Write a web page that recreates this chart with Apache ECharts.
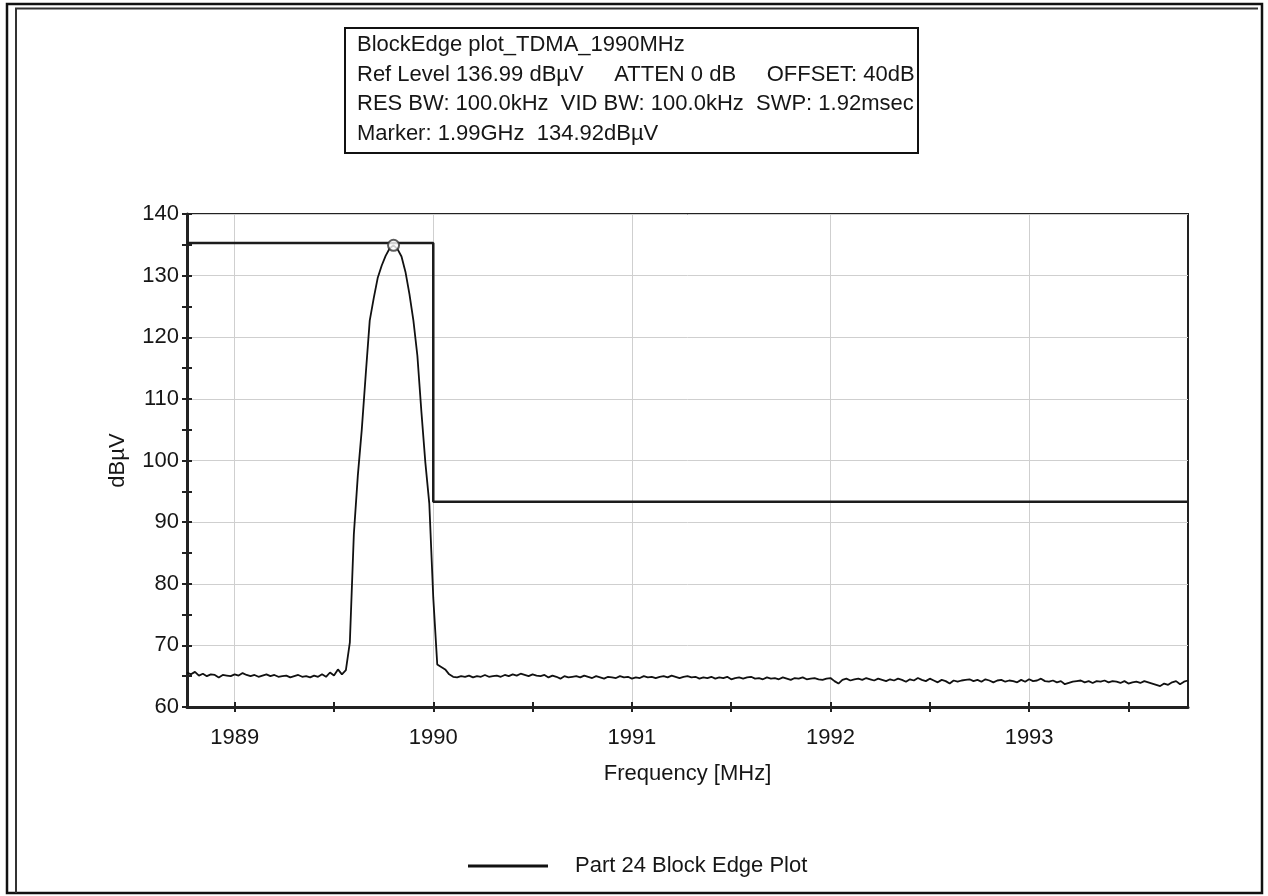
<!DOCTYPE html>
<html>
<head>
<meta charset="utf-8">
<title>Part 24 Block Edge Plot</title>
<script src="https://cdn.jsdelivr.net/npm/echarts@6/dist/echarts.min.js"></script>
<style>
  html, body { margin: 0; padding: 0; background: #ffffff; }
  #chart { width: 1268px; height: 896px; }
</style>
</head>
<body>
<div id="chart"></div>
<script>
// ---- Sweep settings and readout text ----
const infoLines = [
  'BlockEdge plot_TDMA_1990MHz',
  'Ref Level 136.99 dBµV     ATTEN 0 dB     OFFSET: 40dB',
  'RES BW: 100.0kHz  VID BW: 100.0kHz  SWP: 1.92msec',
  'Marker: 1.99GHz  134.92dBµV'
];

// ---- Axis ranges and tick labels ----
const freqMinMHz = 1988.76;
const freqMaxMHz = 1993.80;
const freqLabelValues = [1989, 1990, 1991, 1992, 1993];
const freqTickValues = [1989, 1989.5, 1990, 1990.5, 1991, 1991.5, 1992, 1992.5, 1993, 1993.5];
const levelMin = 60;
const levelMax = 140;
const levelStep = 10;

// ---- Measured trace (dBµV), one reading every traceStepMHz from traceStartMHz ----
const traceStartMHz = 1988.76;
const traceStepMHz = 0.02;
const traceLevel = [
  // 1988.76 .. 1989.54
  65.6, 65.3, 65.7, 65.1, 65.4, 65.0, 65.3, 65.2, 64.8, 65.2,
  65.1, 65.0, 65.3, 65.1, 65.5, 65.2, 65.0, 65.2, 64.9, 65.1,
  65.3, 65.0, 65.2, 64.9, 65.0, 65.1, 64.8, 65.0, 65.2, 64.9,
  65.0, 64.8, 65.1, 64.9, 65.3, 64.9, 65.6, 65.1, 66.1, 65.3,
  // 1989.56 .. 1990.10 (carrier)
  66.0, 70.5, 88.0, 97.5, 105.0, 114.0, 122.7, 126.3, 129.6, 131.6,
  133.2, 134.4, 134.92, 134.3, 133.1, 130.6, 127.0, 122.7, 117.0, 108.0,
  99.7, 93.0, 77.7, 66.9, 66.5, 66.1, 65.3, 64.9,
  // 1990.12 .. 1993.80
  64.8, 65.0, 64.9, 65.1, 64.8, 65.0, 64.9, 65.2, 64.9, 65.0,
  65.1, 64.9, 65.2, 65.0, 65.3, 65.1, 65.4, 65.2, 65.0, 65.3,
  65.1, 65.0, 65.2, 64.8, 65.1, 64.9, 64.6, 65.0, 64.8, 64.9,
  65.0, 64.8, 65.1, 64.9, 64.7, 65.0, 64.8, 64.6, 64.9, 64.8,
  64.7, 65.0, 64.8, 64.9, 64.6, 64.8, 64.7, 65.0, 64.8, 64.9,
  64.7, 64.9, 65.0, 64.8, 65.1, 64.9, 64.7, 64.9, 65.0, 64.8,
  64.9, 64.6, 64.8, 64.7, 64.9, 64.6, 64.8, 64.7, 64.9, 64.5,
  64.7, 64.8, 64.6, 64.8, 64.9, 64.6, 64.7, 64.5, 64.8, 64.6,
  64.7, 64.5, 64.8, 64.6, 64.4, 64.7, 64.6, 64.8, 64.5, 64.6,
  64.7, 64.5, 64.4, 64.6, 64.7, 64.2, 63.8, 64.4, 64.6, 64.3,
  64.5, 64.6, 64.4, 64.7, 64.5, 64.3, 64.6, 64.4, 64.2, 64.5,
  64.3, 64.6, 64.4, 64.1, 64.5, 64.3, 64.7, 64.4, 64.2, 64.6,
  64.3, 64.0, 64.4, 64.2, 63.8, 64.3, 64.1, 64.3, 64.4, 64.5,
  64.2, 64.4, 64.1, 64.5, 64.3, 64.0, 64.3, 64.4, 64.1, 64.3,
  64.2, 64.0, 64.4, 64.1, 64.5, 64.2, 64.3, 64.6, 64.2, 64.1,
  64.3, 64.0, 64.2, 63.7, 63.9, 64.1, 64.2, 64.3, 64.0, 64.2,
  63.9, 64.2, 64.1, 64.3, 64.0, 64.2, 64.1, 63.9, 64.2, 63.8,
  64.0, 64.1, 63.9, 64.2, 64.0, 63.8, 63.6, 63.4, 63.8, 63.6,
  64.0, 64.2, 63.7, 64.1, 64.3
];

// ---- Block edge limit mask ----
const limitFreqMHz = [1988.76, 1990.0, 1990.0, 1993.80];
const limitLevel = [135.3, 135.3, 93.3, 93.3];

// ---- Peak marker ----
const markerFreqMHz = 1989.80;
const markerLevel = 134.92;

const traceName = 'Part 24 Block Edge Plot';

const FONT = '"Liberation Sans", Arial, sans-serif';
const INK = '#161616';
const GRID_GREY = '#cfcfcf';

const traceData = traceLevel.map((v, i) => [+(traceStartMHz + i * traceStepMHz).toFixed(2), v]);
const limitData = limitFreqMHz.map((f, i) => [f, limitLevel[i]]);

const chart = echarts.init(document.getElementById('chart'), null, { renderer: 'canvas' });

const baseX = { type: 'value', min: freqMinMHz, max: freqMaxMHz, position: 'bottom' };
const baseY = { type: 'value', min: levelMin, max: levelMax, interval: levelStep, position: 'left' };

chart.setOption({
  animation: false,
  backgroundColor: '#ffffff',
  textStyle: { fontFamily: FONT },
  grid: {
    left: 187, top: 214, right: 80, bottom: 189,
    show: true, borderColor: '#222', borderWidth: 2, backgroundColor: '#ffffff'
  },
  legend: {
    data: [traceName],
    left: 463, top: 850,
    icon: 'rect', itemWidth: 80, itemHeight: 3,
    selectedMode: false,
    textStyle: { fontSize: 22, color: INK, fontFamily: FONT, padding: [0, 0, 0, 22] }
  },
  xAxis: [
    Object.assign({}, baseX, {
      name: 'Frequency [MHz]', nameLocation: 'middle', nameGap: 56,
      nameTextStyle: { fontSize: 22, color: INK, fontFamily: FONT },
      axisLine: { show: true, lineStyle: { color: '#222', width: 3 } },
      axisTick: { show: true, inside: false, length: 5, customValues: freqTickValues, lineStyle: { color: '#222', width: 2 } },
      axisLabel: { customValues: freqLabelValues, fontSize: 22, color: INK, margin: 20, fontFamily: FONT,
                   formatter: v => String(v) },
      splitLine: { show: false }
    }),
    Object.assign({}, baseX, {
      axisLine: { show: false },
      axisTick: { show: true, inside: true, length: 5, customValues: freqTickValues, lineStyle: { color: '#222', width: 2 } },
      axisLabel: { show: false },
      splitLine: { show: false }
    }),
    Object.assign({}, baseX, {
      position: 'top',
      axisLine: { show: false },
      axisTick: { show: false, customValues: freqLabelValues },
      axisLabel: { show: false },
      splitLine: { show: true, lineStyle: { color: GRID_GREY, width: 1 } }
    })
  ],
  yAxis: [
    Object.assign({}, baseY, {
      name: 'dBµV', nameLocation: 'middle', nameGap: 58, nameRotate: 90,
      nameTextStyle: { fontSize: 22, color: INK, fontFamily: FONT },
      axisLine: { show: true, lineStyle: { color: '#222', width: 3 } },
      axisTick: { show: true, inside: false, length: 5, lineStyle: { color: '#222', width: 2 } },
      minorTick: { show: true, splitNumber: 2, length: 5, lineStyle: { color: '#222', width: 2 } },
      axisLabel: { fontSize: 22, color: INK, margin: 8, fontFamily: FONT },
      splitLine: { show: true, lineStyle: { color: GRID_GREY, width: 1 } }
    }),
    Object.assign({}, baseY, {
      axisLine: { show: false },
      axisTick: { show: true, inside: true, length: 5, lineStyle: { color: '#222', width: 2 } },
      minorTick: { show: true, splitNumber: 2, length: 5, lineStyle: { color: '#222', width: 2 } },
      axisLabel: { show: false },
      splitLine: { show: false }
    })
  ],
  series: [
    {
      name: 'Block Edge Limit',
      type: 'line',
      xAxisIndex: 0, yAxisIndex: 0,
      data: limitData,
      symbol: 'none',
      lineStyle: { color: '#1c1c1c', width: 2.5 },
      z: 3
    },
    {
      name: traceName,
      type: 'line',
      xAxisIndex: 0, yAxisIndex: 0,
      data: traceData,
      symbol: 'none',
      itemStyle: { color: '#111' },
      lineStyle: { color: '#111', width: 1.8 },
      z: 4
    },
    {
      name: 'Marker',
      type: 'scatter',
      xAxisIndex: 0, yAxisIndex: 0,
      data: [[markerFreqMHz, markerLevel]],
      symbol: 'emptyCircle',
      symbolSize: 11,
      itemStyle: { color: '#333', borderColor: '#333', borderWidth: 1.5 },
      z: 5
    }
  ],
  graphic: [
    // frame round the whole plot window
    { type: 'rect', silent: true, shape: { x: 7, y: 4, width: 1255, height: 889 },
      style: { fill: 'none', stroke: '#111', lineWidth: 2.5 } },
    { type: 'polyline', silent: true, shape: { points: [[16, 893], [16, 8.5], [1258, 8.5]] },
      style: { fill: 'none', stroke: '#333', lineWidth: 2 } },
    // settings readout box
    { type: 'rect', silent: true, shape: { x: 345, y: 28, width: 573, height: 125 },
      style: { fill: '#ffffff', stroke: '#111', lineWidth: 2 } },
    { type: 'text', silent: true, x: 357, y: 30,
      style: { text: infoLines.join('\n'), font: '22px ' + FONT, fill: INK,
               lineHeight: 29.7, verticalAlign: 'top', align: 'left' } }
  ]
});
</script>
</body>
</html>
